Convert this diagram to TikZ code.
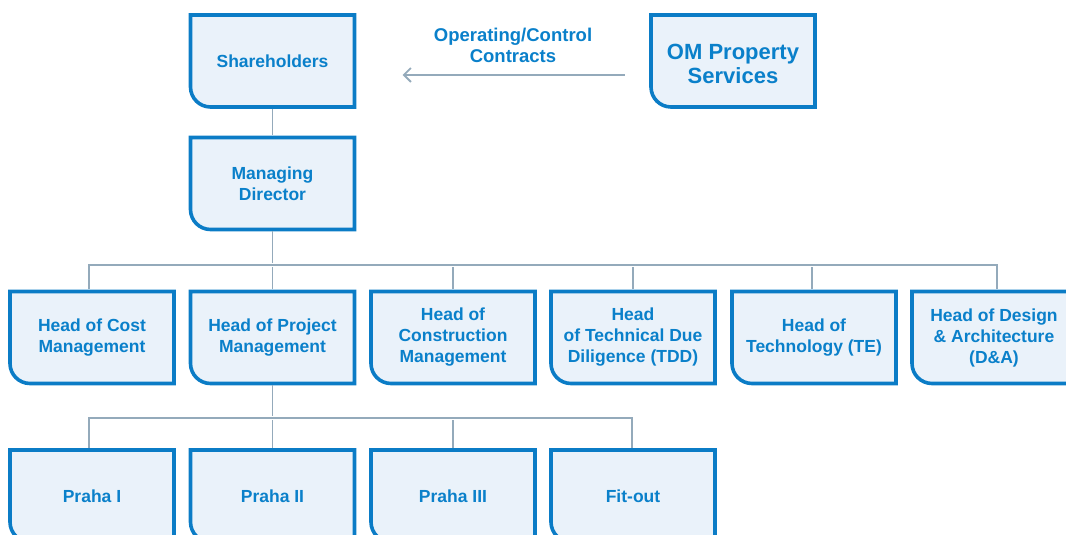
\documentclass[tikz,border=0pt]{standalone}
\usepackage{fontspec}
\setmainfont{Liberation Sans}
\usetikzlibrary{arrows.meta}

\definecolor{boxblue}{HTML}{0B7CC6}
\definecolor{boxfill}{HTML}{EAF2FA}
\definecolor{txtblue}{HTML}{0A80CA}
\definecolor{linkgray}{HTML}{94AABB}

% Box with a rounded bottom-left corner: name, centre x, centre y, text
\newcommand\orgbox[4]{%
  \path[boxoutline] ({#2-82},{#3+46}) -- ({#2+82},{#3+46}) -- ({#2+82},{#3-46})
    -- ({#2-62},{#3-46}) arc[start angle=270, end angle=180, radius=20] -- cycle;
  \node[boxtext] (#1) at (#2,#3) {#4};
}

\tikzset{
  boxoutline/.style={draw=boxblue, fill=boxfill, line width=3.6pt, line join=miter},
  boxtext/.style={minimum width=164pt, minimum height=92pt, inner sep=0pt,
    align=center, text=txtblue, font=\fontsize{17.5}{21}\selectfont\bfseries},
  bigtext/.style={font=\fontsize{22}{24}\selectfont\bfseries},
  link/.style={draw=linkgray, line width=1.8pt},
  linklabel/.style={align=center, text=txtblue, font=\fontsize{18.5}{21}\selectfont\bfseries},
}

\begin{document}
\begin{tikzpicture}[x=1pt, y=1pt]
  \useasboundingbox (0,0) rectangle (1066,535);
  \clip (0,0) rectangle (1066,535);

  % heights of the two horizontal bus lines
  \coordinate (bus1) at (0,270);
  \coordinate (bus2) at (0,117);

  % top level
  \orgbox{sh}{272.5}{474}{Shareholders}
  \orgbox{om}{733}{474}{}
  \node[boxtext, bigtext] (omtext) at (733,471) {OM Property\\Services};
  \orgbox{md}{272.5}{351.5}{Managing\\Director}

  % heads
  \orgbox{cost}{92}{197.5}{Head of Cost\\Management}
  \orgbox{pm}{272.5}{197.5}{Head of Project\\Management}
  \orgbox{cm}{453}{197.5}{Head of\\Construction\\Management}
  \orgbox{tdd}{633}{197.5}{Head\\of Technical Due\\Diligence (TDD)}
  \orgbox{te}{814}{197.5}{Head of\\Technology (TE)}
  \orgbox{da}{994}{197.5}{Head of Design\\\& Architecture\\(D\&A)}

  % project teams
  \orgbox{p1}{92}{39}{Praha I}
  \orgbox{p2}{272.5}{39}{Praha II}
  \orgbox{p3}{453}{39}{Praha III}
  \orgbox{fo}{633}{39}{Fit-out}

  % links between boxes
  \begin{scope}[shorten <=1.8pt, shorten >=1.8pt]
    \draw[link] (sh.south) -- (md.north);
    \draw[link] (md.south) -- (md.south |- bus1);
    \draw[link] ([xshift=-3pt]cost.north) -- ([xshift=-3pt]cost.north |- bus1)
      -- ([xshift=3pt]da.north |- bus1) -- ([xshift=3pt]da.north);
    \draw[link] (pm.north) -- (pm.north |- bus1);
    \draw[link] (cm.north) -- (cm.north |- bus1);
    \draw[link] (tdd.north) -- (tdd.north |- bus1);
    \draw[link] ([xshift=-2pt]te.north) -- ([xshift=-2pt]te.north |- bus1);

    \draw[link] (pm.south) -- (pm.south |- bus2);
    \draw[link] ([xshift=-3pt]p1.north) -- ([xshift=-3pt]p1.north |- bus2)
      -- ([xshift=-1pt]fo.north |- bus2) -- ([xshift=-1pt]fo.north);
    \draw[link] (p2.north) -- (p2.north |- bus2);
    \draw[link] (p3.north) -- (p3.north |- bus2);
  \end{scope}

  % contract relation
  \draw[link, -{Straight Barb[length=7pt, width=14pt]}, shorten <=26pt, shorten >=48pt]
    ([yshift=-14pt]om.west) -- ([yshift=-14pt]sh.east);
  \node[linklabel] (contracts) at (513,489.5) {Operating/Control\\Contracts};
\end{tikzpicture}
\end{document}
